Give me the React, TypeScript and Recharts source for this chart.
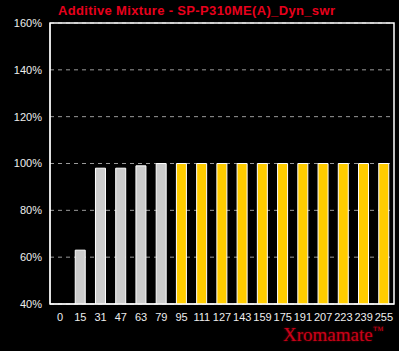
import React from "react";
import { BarChart, Bar, XAxis, YAxis, CartesianGrid, Cell, ReferenceArea } from "recharts";

const categories = ["0", "15", "31", "47", "63", "79", "95", "111", "127", "143", "159", "175", "191", "207", "223", "239", "255"];
const values = [40, 63, 98, 98, 99, 100, 100, 100, 100, 100, 100, 100, 100, 100, 100, 100, 100];
const groups = ["grey", "grey", "grey", "grey", "grey", "grey", "yellow", "yellow", "yellow", "yellow", "yellow", "yellow", "yellow", "yellow", "yellow", "yellow", "yellow"];
const yTicks = [40, 60, 80, 100, 120, 140, 160];

const data = categories.map((c, i) => ({ name: c, value: values[i], group: groups[i] }));
const colorOf: Record<string, string> = { grey: "#cccccc", yellow: "#ffcc00" };

export default function App() {
  return (
    <div style={{ position: "absolute", left: 0, top: 0, width: 399, height: 351, background: "#000", overflow: "hidden" }}>
      <div style={{ position: "absolute", left: 58, top: 3, color: "#e8001c", fontFamily: "'Liberation Sans', Arial, sans-serif", fontWeight: "bold", fontSize: 13, letterSpacing: 0.35, whiteSpace: "nowrap" }}>
        Additive Mixture - SP-P310ME(A)_Dyn_swr
      </div>
      <BarChart width={399} height={351} data={data} margin={{ top: 23, right: 5, bottom: 27, left: 0 }} barCategoryGap={0}>
        <CartesianGrid horizontal vertical={false} stroke="#9a9a9a" strokeDasharray="4 4" />
        <XAxis
          dataKey="name"
          axisLine={{ stroke: "#fff" }}
          tickLine={false}
          tick={{ fill: "#eeeeee", fontSize: 11, fontFamily: "'Liberation Sans', Arial, sans-serif" }}
          tickMargin={3}
          interval={0}
          height={20}
        />
        <YAxis
          domain={[40, 160]}
          ticks={yTicks}
          tickFormatter={(v: number) => `${v}%`}
          axisLine={{ stroke: "#fff" }}
          tickLine={false}
          tick={{ fill: "#eeeeee", fontSize: 11, fontFamily: "'Liberation Sans', Arial, sans-serif" }}
          tickMargin={2}
          width={50}
          allowDataOverflow
        />
        <ReferenceArea y1={40} y2={160} stroke="#fff" strokeWidth={1.5} fill="none" fillOpacity={0} />
        <Bar dataKey="value" barSize={10} stroke="#fff" strokeWidth={1} isAnimationActive={false}>
          {data.map((d, i) => (
            <Cell key={i} fill={colorOf[d.group]} />
          ))}
        </Bar>
      </BarChart>
      <div style={{ position: "absolute", left: 283, top: 324, color: "#c8001a", fontFamily: "'Liberation Serif', 'Times New Roman', serif", fontSize: 19, whiteSpace: "nowrap", textShadow: "0 0 2px #800" }}>
        Xromamate<span style={{ fontSize: 11, verticalAlign: "top" }}>™</span>
      </div>
    </div>
  );
}
